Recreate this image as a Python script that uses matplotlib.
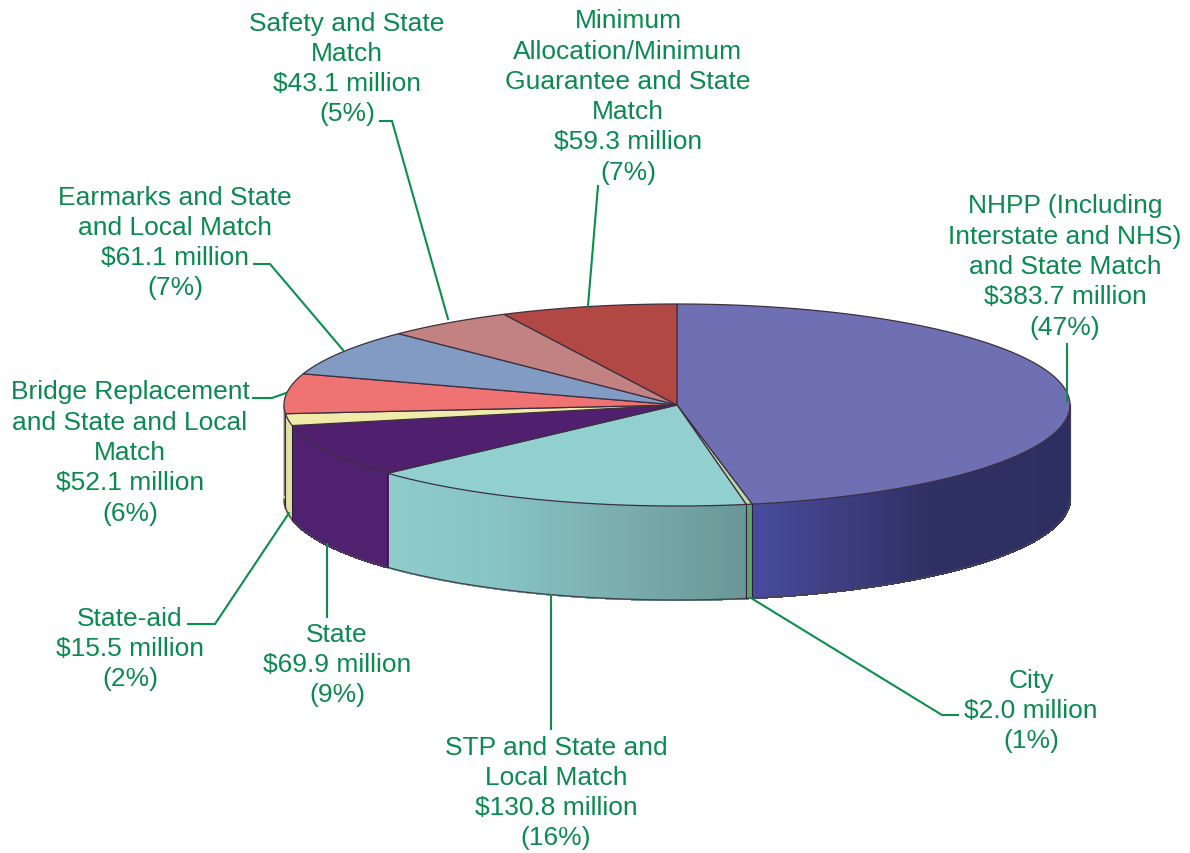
import numpy as np
import matplotlib
matplotlib.use("Agg")
import matplotlib.pyplot as plt
from matplotlib.collections import PolyCollection

# funding by category, $ million, clockwise from 12 o'clock
names = ["NHPP (Including\nInterstate and NHS)\nand State Match", "City",
         "STP and State and\nLocal Match", "State", "State-aid",
         "Bridge Replacement\nand State and Local\nMatch",
         "Earmarks and State\nand Local Match", "Safety and State\nMatch",
         "Minimum\nAllocation/Minimum\nGuarantee and State\nMatch"]
values = [383.7, 2.0, 130.8, 69.9, 15.5, 52.1, 61.1, 43.1, 59.3]
percents = [47, 1, 16, 9, 2, 6, 7, 5, 7]

top_colors = ["#6f70b4", "#bedcaa", "#92d0d0", "#50206e", "#f0ebaa",
              "#f07373", "#829bc3", "#c38282", "#b24844"]
# wall shading: list of (x pixel, colour) stops
wall_colors = [[(752, (72, 76, 155)), (850, (60, 60, 125)), (930, (47, 48, 100)), (1070, (45, 46, 98))],
               [(750, (105, 160, 110)), (752, (105, 160, 110))],
               [(386, (143, 205, 205)), (500, (135, 195, 195)), (640, (120, 170, 170)), (748, (105, 150, 148))],
               [(290, (80, 33, 110)), (386, (80, 33, 110))],
               [(284, (228, 225, 165)), (292, (228, 225, 165))],
               [(284, (228, 225, 165)), (292, (228, 225, 165))]]

label_pos = [(1065, 267), (1031, 711), (556, 793), (337, 665), (130, 649),
             (130, 453), (175, 243), (347, 69), (628, 97)]
leaders = [[(1067, 345), (1067, 402)],
           [(751, 599), (942, 716), (958, 716)],
           [(551, 596), (551, 730)],
           [(327, 545), (327, 618)],
           [(289, 514), (215, 625), (188, 625)],
           [(253, 399), (272, 399), (286, 394)],
           [(254, 265), (270, 265), (343, 351)],
           [(380, 122), (392, 122), (448, 320)],
           [(598, 187), (588, 307)]]

cx, cy, rx, ry, depth = 677, 406, 393, 101, 94
edge = "#4a4250"
green_text = "#0a8a50"
green_line = "#0b8f4c"


def rim(a):
    return cx + rx * np.sin(a), cy - ry * np.cos(a)


fig = plt.figure(figsize=(11.9, 8.54), dpi=100)
ax = fig.add_axes([0, 0, 1, 1])
ax.set_xlim(0, 1190)
ax.set_ylim(854, 0)
ax.axis("off")

edges = np.radians(np.cumsum([0] + values) / sum(values) * 360)

# side wall, only the front half of the rim shows
for i in range(len(values)):
    a0, a1 = max(edges[i], np.pi / 2), min(edges[i + 1], 3 * np.pi / 2)
    if a1 <= a0:
        continue
    ang = np.linspace(a0, a1, max(int((a1 - a0) * 180), 2) + 1)
    x, y = rim(ang)
    stops = wall_colors[i]
    sx = [s[0] for s in stops]
    cols = []
    polys = []
    for j in range(len(ang) - 1):
        xm = (x[j] + x[j + 1]) / 2
        cols.append([np.interp(xm, sx, [s[1][k] for s in stops]) / 255 for k in range(3)])
        polys.append([(x[j], y[j]), (x[j + 1], y[j + 1]),
                      (x[j + 1], y[j + 1] + depth), (x[j], y[j] + depth)])
    ax.add_collection(PolyCollection(polys, facecolors=cols, edgecolors=cols, linewidths=1.0,
                                     antialiaseds=False, zorder=1))
    ax.plot(x, y + depth, color=edge, lw=1.0, zorder=2)
    ax.plot([x[0], x[0]], [y[0], y[0] + depth], color="#2a2040", lw=0.8, zorder=2)

# top face
for i in range(len(values)):
    ang = np.linspace(edges[i], edges[i + 1], 120)
    x, y = rim(ang)
    ax.fill(np.r_[cx, x], np.r_[cy, y], facecolor=top_colors[i], edgecolor="#3c3040", lw=0.9, zorder=3)

xr, yr = rim(np.radians(90))
ax.plot([xr, xr], [yr, yr + depth], color=edge, lw=0.8, zorder=2)
xl, yl = rim(np.radians(270))
ax.plot([xl, xl], [yl, yl + depth - 4], color="#777070", lw=1.0, zorder=2)

for pts in leaders:
    ax.plot([p[0] for p in pts], [p[1] for p in pts], color=green_line, lw=1.5,
            solid_joinstyle="miter", zorder=4)

for name, val, pct, pos in zip(names, values, percents, label_pos):
    ax.text(pos[0], pos[1], f"{name}\n\\${val:.1f} million\n({pct}%)", ha="center", va="center",
            multialignment="center", family="Liberation Sans", fontsize=19, color=green_text,
            linespacing=1.33, zorder=5)

fig.savefig("out.png", dpi=100)
